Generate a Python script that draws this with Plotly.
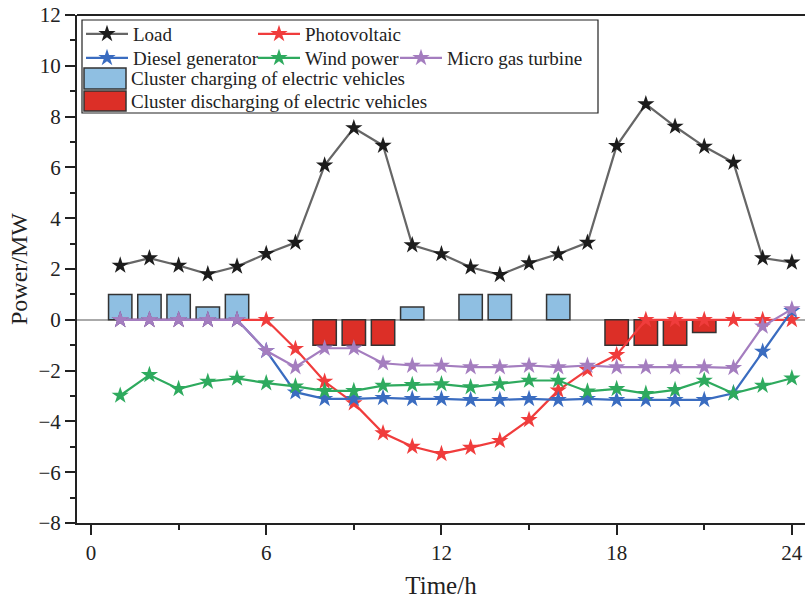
import plotly.graph_objects as go

hours = list(range(1, 25))
load = [2.14, 2.43, 2.14, 1.80, 2.10, 2.60, 3.04, 6.08, 7.55, 6.86, 2.94, 2.59,
        2.07, 1.77, 2.23, 2.59, 3.04, 6.85, 8.49, 7.61, 6.82, 6.19, 2.43, 2.26]
pv = [0, 0, 0, 0, 0, 0, -1.14, -2.43, -3.28, -4.46, -4.99, -5.28,
      -5.03, -4.76, -3.94, -2.78, -1.97, -1.38, 0, 0, 0, 0, 0, 0]
diesel = [0, 0, 0, 0, 0, -1.22, -2.85, -3.11, -3.11, -3.07, -3.11, -3.11,
          -3.15, -3.15, -3.11, -3.15, -3.11, -3.15, -3.15, -3.15, -3.15, -2.89, -1.25, 0.35]
wind = [-2.98, -2.17, -2.72, -2.43, -2.31, -2.49, -2.62, -2.80, -2.80, -2.59, -2.56, -2.53,
        -2.65, -2.53, -2.39, -2.39, -2.82, -2.72, -2.91, -2.76, -2.39, -2.90, -2.59, -2.30]
mgt = [0, 0, 0, 0, 0, -1.22, -1.86, -1.12, -1.12, -1.71, -1.80, -1.80,
       -1.86, -1.86, -1.80, -1.86, -1.80, -1.86, -1.86, -1.86, -1.86, -1.89, -0.26, 0.42]
charge_hours = [1, 2, 3, 4, 5, 11, 13, 14, 16]
charge = [1, 1, 1, 0.5, 1, 0.5, 1, 1, 1]
discharge_hours = [8, 9, 10, 18, 19, 20, 21]
discharge = [-1, -1, -1, -1, -1, -1, -0.5]

x_ticks = [0, 6, 12, 18, 24]
y_ticks = [-8, -6, -4, -2, 0, 2, 4, 6, 8, 10, 12]

FONT = "Liberation Serif"
W, H = 805, 600
ML, MR, MT, MB = 77, 0, 15, 77
PW, PH = W - ML - MR, H - MT - MB

def px(xp):
    return (xp - ML) / PW

def py(yp):
    return (H - MB - yp) / PH

CH_COLOR = "#8fbfe2"
DIS_COLOR = "#dc2f27"

fig = go.Figure()
fig.add_trace(go.Bar(x=charge_hours, y=charge, width=0.8, marker=dict(color=CH_COLOR, line=dict(color="#333333", width=1.5)),
                     showlegend=False, name="Cluster charging of electric vehicles"))
fig.add_trace(go.Bar(x=discharge_hours, y=discharge, width=0.8, marker=dict(color=DIS_COLOR, line=dict(color="#333333", width=1.5)),
                     showlegend=False, name="Cluster discharging of electric vehicles"))

series = [
    ("Load", load, "#666666", "#1c1c1c", "legend"),
    ("Photovoltaic", pv, "#f03c3c", "#f03c3c", "legend2"),
    ("Diesel generator", diesel, "#3a6cc0", "#3a6cc0", "legend3"),
    ("Wind power", wind, "#2eaa5e", "#2eaa5e", "legend4"),
    ("Micro gas turbine", mgt, "#a47dbf", "#a47dbf", "legend5"),
]
for name, vals, lc, mc, lg in series:
    fig.add_trace(go.Scatter(x=hours, y=vals, mode="lines+markers", name=name,
                             line=dict(color=lc, width=2.2),
                             marker=dict(symbol="star", size=13, color=mc, line=dict(width=0)),
                             legend=lg))

leg_common = dict(bgcolor="rgba(0,0,0,0)", borderwidth=0, font=dict(family=FONT, size=19, color="#222"),
                  itemwidth=42, xanchor="left", yanchor="middle", orientation="v")
legend_pos = {
    "legend": (81, 34), "legend2": (253, 34), "legend3": (81, 58),
    "legend4": (253, 58), "legend5": (395, 58),
}
layout_legends = {k: dict(leg_common, x=px(v[0]), y=py(v[1])) for k, v in legend_pos.items()}

shapes = [
    dict(type="line", xref="paper", yref="paper", x0=0, x1=1, y0=1, y1=1,
         line=dict(color="#222", width=2)),
    dict(type="rect", xref="paper", yref="paper", x0=px(82), x1=px(598), y0=py(20), y1=py(113),
         line=dict(color="#222", width=1.2), fillcolor="rgba(0,0,0,0)"),
    dict(type="rect", xref="paper", yref="paper", x0=px(84), x1=px(126), y0=py(68), y1=py(89),
         line=dict(color="#333", width=1.5), fillcolor=CH_COLOR),
    dict(type="rect", xref="paper", yref="paper", x0=px(84), x1=px(126), y0=py(91), y1=py(111),
         line=dict(color="#333", width=1.5), fillcolor=DIS_COLOR),
]
annotations = [
    dict(xref="paper", yref="paper", x=px(129), y=py(78), xanchor="left", yanchor="middle", showarrow=False,
         text="Cluster charging of electric vehicles", font=dict(family=FONT, size=19, color="#222")),
    dict(xref="paper", yref="paper", x=px(129), y=py(101), xanchor="left", yanchor="middle", showarrow=False,
         text="Cluster discharging of electric vehicles", font=dict(family=FONT, size=19, color="#222")),
]

fig.update_layout(
    template="none",
    width=W, height=H,
    margin=dict(l=ML, r=MR, t=MT, b=MB, pad=0),
    paper_bgcolor="white", plot_bgcolor="white",
    barmode="overlay",
    font=dict(family=FONT, color="#222"),
    shapes=shapes, annotations=annotations,
    **layout_legends,
)
fig.update_xaxes(range=[-0.48, 24.45], tickvals=x_ticks, ticktext=[str(v) for v in x_ticks],
                 ticks="outside", ticklen=10, tickwidth=2, tickcolor="#222",
                 minor=dict(tickvals=[3, 9, 15, 21], ticks="outside", ticklen=5, tickwidth=2, tickcolor="#222"),
                 showline=True, linecolor="#222", linewidth=2, mirror=False,
                 showgrid=False, zeroline=False, automargin=False,
                 tickfont=dict(family=FONT, size=21, color="#222"),
                 title=dict(text="Time/h", font=dict(family=FONT, size=25, color="#222"), standoff=12))
fig.update_yaxes(range=[-8, 12], tickvals=y_ticks,
                 ticks="outside", ticklen=10, tickwidth=2, tickcolor="#222",
                 minor=dict(dtick=1, tick0=0, ticks="outside", ticklen=5, tickwidth=2, tickcolor="#222"),
                 showline=True, linecolor="#222", linewidth=2, mirror=False,
                 showgrid=False, zeroline=True, zerolinecolor="#aaaaaa", zerolinewidth=1.5,
                 automargin=False,
                 tickfont=dict(family=FONT, size=21, color="#222"),
                 title=dict(text="Power/MW", font=dict(family=FONT, size=24, color="#222"), standoff=4))

fig.write_html("out.html",
               post_script="document.documentElement.style.overflow='hidden';document.body.style.overflow='hidden';document.body.style.margin='0';")
